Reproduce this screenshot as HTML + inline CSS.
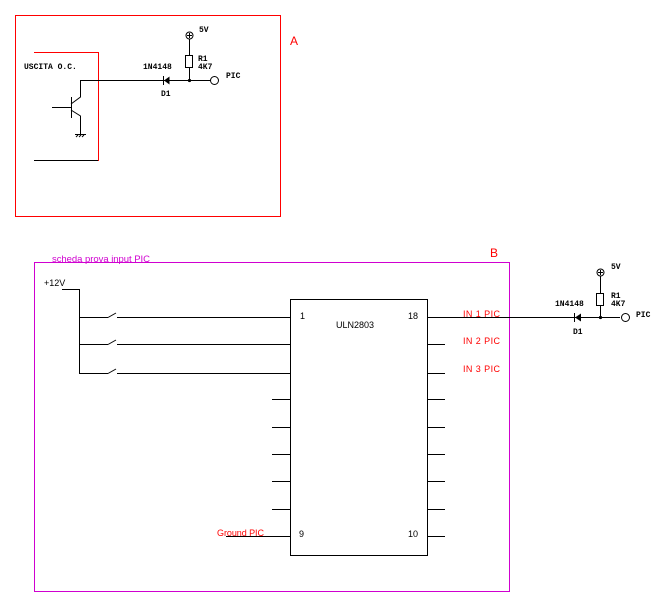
<!DOCTYPE html>
<html><head><meta charset="utf-8"><style>
html,body{margin:0;padding:0;background:#fff;}
svg{display:block;}
.m{font-family:"Liberation Mono",monospace;font-size:8px;font-weight:bold;fill:#000;}
.s{font-family:"Liberation Sans",sans-serif;font-size:9px;fill:#000;}
.r{font-family:"Liberation Sans",sans-serif;font-size:9px;fill:#f00;}
</style></head><body>
<svg width="666" height="607" viewBox="0 0 666 607" xmlns="http://www.w3.org/2000/svg">
<g fill="none" stroke-width="1" shape-rendering="crispEdges">
<rect x="15.5" y="15.5" width="265" height="201" stroke="#f00"/>
<polyline points="34,52.5 98.5,52.5 98.5,161" stroke="#f00"/>
<line x1="34" y1="160.5" x2="98" y2="160.5" stroke="#000"/>
</g>
<g stroke="#000" fill="none">
<polyline points="214,80.5 80.5,80.5 80.5,97 71,104"/>
<line x1="71.5" y1="97" x2="71.5" y2="118"/>
<line x1="52" y1="107.5" x2="71" y2="107.5"/>
<polyline points="71,110 80.5,116 80.5,134"/>
<line x1="75" y1="134.5" x2="86" y2="134.5"/>
<line x1="76" y1="137" x2="78" y2="135"/><line x1="79" y1="137" x2="81" y2="135"/><line x1="82" y1="137" x2="84" y2="135"/>
<line x1="163.5" y1="76" x2="163.5" y2="85"/>
<line x1="189.5" y1="39" x2="189.5" y2="80"/>
<rect x="185.5" y="55.5" width="7" height="12" fill="#fff"/>
<circle cx="189.5" cy="35.5" r="3.5" fill="#fff"/>
<line x1="187" y1="35.5" x2="192" y2="35.5"/><line x1="189.5" y1="33" x2="189.5" y2="38"/>
<circle cx="214.5" cy="80.5" r="4" fill="#fff"/>
</g>
<polygon points="164,80.5 169.5,76.5 169.5,84.5" fill="#000"/>
<circle cx="189.5" cy="80.5" r="1.6" fill="#000"/>
<text x="24" y="69" class="m">USCITA O.C.</text>
<text x="143" y="69" class="m">1N4148</text>
<text x="161" y="96" class="m">D1</text>
<text x="198" y="61" class="m">R1</text>
<text x="198" y="69" class="m">4K7</text>
<text x="199" y="32" class="m">5V</text>
<text x="226" y="78" class="m">PIC</text>
<text x="290" y="45" font-family="Liberation Sans" font-size="12" fill="#f00">A</text>

<rect x="34.5" y="262.5" width="475" height="329" fill="none" stroke="#d000d0" shape-rendering="crispEdges"/>
<text x="52" y="262" font-family="Liberation Sans" font-size="9.5" fill="#d000d0" textLength="98">scheda prova input PIC</text>
<text x="490" y="257" font-family="Liberation Sans" font-size="12" fill="#f00">B</text>
<text x="44" y="286" class="s" font-size="9.5">+12V</text>
<g stroke="#000" fill="none" shape-rendering="crispEdges">
<polyline points="62,289.5 79.5,289.5 79.5,373.5 108,373.5"/>
<line x1="79" y1="317.5" x2="108" y2="317.5"/>
<line x1="79" y1="344.5" x2="108" y2="344.5"/>
<line x1="117" y1="317.5" x2="290" y2="317.5"/>
<line x1="117" y1="344.5" x2="290" y2="344.5"/>
<line x1="117" y1="373.5" x2="290" y2="373.5"/>
<rect x="290.5" y="299.5" width="137" height="256"/>
<line x1="427" y1="317.5" x2="580" y2="317.5"/>
<line x1="427" y1="344.5" x2="445" y2="344.5"/>
<line x1="427" y1="373.5" x2="445" y2="373.5"/>
<line x1="427" y1="399.5" x2="445" y2="399.5"/>
<line x1="427" y1="427.5" x2="445" y2="427.5"/>
<line x1="427" y1="454.5" x2="445" y2="454.5"/>
<line x1="427" y1="481.5" x2="445" y2="481.5"/>
<line x1="427" y1="509.5" x2="445" y2="509.5"/>
<line x1="427" y1="536.5" x2="445" y2="536.5"/>
<line x1="272" y1="399.5" x2="290" y2="399.5"/>
<line x1="272" y1="427.5" x2="290" y2="427.5"/>
<line x1="272" y1="454.5" x2="290" y2="454.5"/>
<line x1="272" y1="481.5" x2="290" y2="481.5"/>
<line x1="272" y1="509.5" x2="290" y2="509.5"/>
<line x1="226" y1="536.5" x2="290" y2="536.5"/>
</g>
<g stroke="#000">
<line x1="108" y1="317.5" x2="116" y2="313"/>
<line x1="108" y1="344.5" x2="116" y2="340"/>
<line x1="108" y1="373.5" x2="116" y2="369"/>
</g>
<text x="300" y="319" class="s">1</text>
<text x="408" y="319" class="s">18</text>
<text x="336" y="328" class="s">ULN2803</text>
<text x="299" y="537" class="s">9</text>
<text x="408" y="537" class="s">10</text>
<text x="463" y="317" class="r" textLength="37">IN 1 PIC</text>
<text x="463" y="344" class="r" textLength="37">IN 2 PIC</text>
<text x="463" y="372" class="r" textLength="37">IN 3 PIC</text>
<text x="217" y="536" class="r" textLength="47">Ground PIC</text>
<g stroke="#000" fill="none">
<line x1="580" y1="317.5" x2="620" y2="317.5"/>
<line x1="574.5" y1="313" x2="574.5" y2="322"/>
<line x1="600.5" y1="276" x2="600.5" y2="317"/>
<rect x="596.5" y="293.5" width="7" height="12" fill="#fff"/>
<circle cx="600.5" cy="272.5" r="3.5" fill="#fff"/>
<line x1="598" y1="272.5" x2="603" y2="272.5"/><line x1="600.5" y1="270" x2="600.5" y2="275"/>
<circle cx="625.5" cy="317.5" r="4" fill="#fff"/>
</g>
<polygon points="575,317.5 581,313.5 581,321.5" fill="#000"/>
<circle cx="600.5" cy="317.5" r="1.6" fill="#000"/>
<text x="555" y="306" class="m">1N4148</text>
<text x="573" y="334" class="m">D1</text>
<text x="611" y="298" class="m">R1</text>
<text x="611" y="306" class="m">4K7</text>
<text x="611" y="269" class="m">5V</text>
<text x="636" y="317" class="m">PIC</text>
</svg>
</body></html>
